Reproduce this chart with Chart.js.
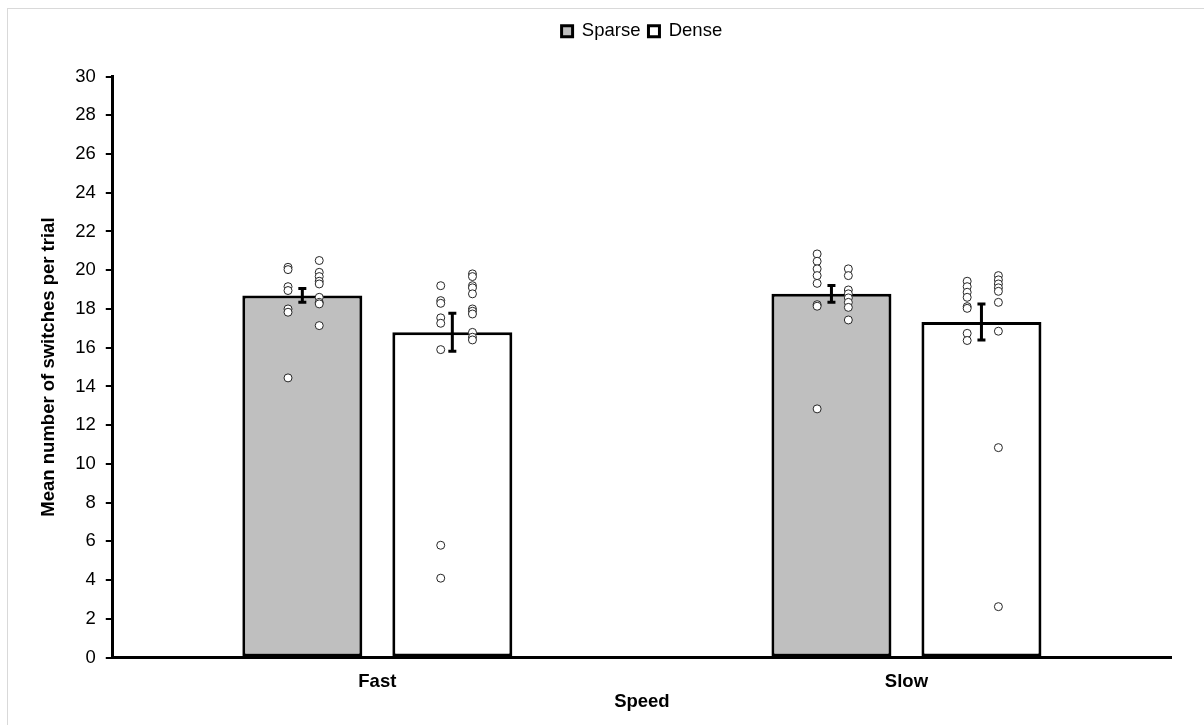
<!DOCTYPE html>
<html>
<head>
<meta charset="utf-8">
<script src="https://cdn.jsdelivr.net/npm/chart.js@4.4.1/dist/chart.umd.min.js"></script>
<style>
  html, body { margin: 0; padding: 0; background: #fff; }
  .wrap { position: relative; width: 1204px; height: 725px; }
  .frame { position: absolute; left: 7px; top: 8px; width: 1300px; height: 800px; border: 1px solid #d9d9d9; }
  canvas { position: absolute; left: 0; top: 0; }
</style>
</head>
<body>
<div class="wrap">
  <div class="frame"></div>
  <canvas id="chart" width="1204" height="725"></canvas>
</div>
<script>
const speeds = ["Fast", "Slow"];
const seriesNames = ["Sparse", "Dense"];

const sparseMeans = [18.7, 18.78];
const denseMeans = [16.8, 17.33];
const sparseErr = [0.35, 0.43];
const denseErr = [0.98, 0.93];

// individual participants, two columns of dots per bar
const fastSparseLeft = [20.15, 20.03, 19.15, 18.95, 18.0, 17.83, 14.44];
const fastSparseRight = [20.5, 19.89, 19.67, 19.43, 19.29, 18.6, 18.34, 18.26, 17.14];
const fastDenseLeft = [19.2, 18.43, 18.29, 17.54, 17.26, 15.9, 5.8, 4.1];
const fastDenseRight = [19.81, 19.67, 19.2, 19.09, 18.78, 18.0, 17.88, 17.74, 16.79, 16.54, 16.4];
const slowSparseLeft = [20.84, 20.46, 20.07, 19.72, 19.32, 18.22, 18.14, 12.84];
const slowSparseRight = [20.07, 19.72, 18.98, 18.78, 18.57, 18.34, 18.08, 17.43];
const slowDenseLeft = [19.43, 19.15, 18.86, 18.6, 18.12, 18.03, 16.74, 16.37];
const slowDenseRight = [19.72, 19.5, 19.29, 19.09, 18.91, 18.34, 16.85, 10.84, 2.63];

const yTicksMax = 30;
const yTickStep = 2;

// dot columns sit a little left and right of each bar centre
const barShift = 0.1418;
const leftCol = -0.027;
const rightCol = 0.032;

function dots(catIndex, shift, col, values) {
  return values.map((v) => ({ x: catIndex + shift + col, y: v }));
}

const dotPoints = []
  .concat(dots(0, -barShift, leftCol, fastSparseLeft))
  .concat(dots(0, -barShift, rightCol, fastSparseRight))
  .concat(dots(0, barShift, leftCol + 0.005, fastDenseLeft))
  .concat(dots(0, barShift, rightCol + 0.006, fastDenseRight))
  .concat(dots(1, -barShift, leftCol, slowSparseLeft))
  .concat(dots(1, -barShift, rightCol, slowSparseRight))
  .concat(dots(1, barShift, leftCol, slowDenseLeft))
  .concat(dots(1, barShift, rightCol, slowDenseRight));

const barData = (means) => means.map((m, i) => ({ x: i, y: m }));

const errorBars = {
  id: "errorBars",
  afterDatasetsDraw(chart) {
    const ctx = chart.ctx;
    const yScale = chart.scales.y;
    const errs = [sparseErr, denseErr];
    const means = [sparseMeans, denseMeans];
    ctx.save();
    ctx.strokeStyle = "#000";
    ctx.lineWidth = 3;
    [0, 1].forEach((di) => {
      const meta = chart.getDatasetMeta(di);
      meta.data.forEach((bar, i) => {
        const top = yScale.getPixelForValue(means[di][i] + errs[di][i]);
        const bot = yScale.getPixelForValue(means[di][i] - errs[di][i]);
        const x = bar.x;
        ctx.beginPath();
        ctx.moveTo(x, top);
        ctx.lineTo(x, bot);
        ctx.moveTo(x - 4, top);
        ctx.lineTo(x + 4, top);
        ctx.moveTo(x - 4, bot);
        ctx.lineTo(x + 4, bot);
        ctx.stroke();
      });
    });
    ctx.restore();
  },
};

// extra room under the legend
const legendGap = {
  id: "legendGap",
  beforeInit(chart) {
    const fit = chart.legend.fit;
    chart.legend.fit = function () {
      fit.bind(chart.legend)();
      this.height += 26;
    };
  },
};

Chart.defaults.font.family = "'Liberation Sans', Arial, sans-serif";
Chart.defaults.color = "#000";

new Chart(document.getElementById("chart"), {
  type: "bar",
  data: {
    datasets: [
      {
        label: seriesNames[0],
        data: barData(sparseMeans),
        backgroundColor: "#bfbfbf",
        borderColor: "#000",
        borderWidth: 3,
        borderSkipped: false,
        order: 2,
      },
      {
        label: seriesNames[1],
        data: barData(denseMeans),
        backgroundColor: "#fff",
        borderColor: "#000",
        borderWidth: 3,
        borderSkipped: false,
        order: 2,
      },
      {
        type: "scatter",
        label: "points",
        data: dotPoints,
        pointRadius: 4,
        backgroundColor: "#fff",
        borderColor: "#262626",
        borderWidth: 1,
        order: 1,
      },
    ],
  },
  options: {
    responsive: false,
    animation: false,
    categoryPercentage: 0.567,
    barPercentage: 0.8,
    layout: { padding: { top: 14, left: 38, right: 33, bottom: 12 } },
    plugins: {
      tooltip: { enabled: false },
      legend: {
        position: "top",
        fullSize: false,
        labels: {
          filter: (item) => item.datasetIndex < 2,
          boxWidth: 11,
          boxHeight: 11,
          padding: 8,
          font: { size: 18.5 },
          color: "#000",
        },
      },
    },
    scales: {
      x: {
        type: "linear",
        min: -0.5,
        max: 1.5,
        offset: false,
        afterBuildTicks: (axis) => {
          axis.ticks = speeds.map((_, i) => ({ value: i }));
        },
        grid: { display: false, drawTicks: false, offset: false },
        border: { color: "#000", width: 3 },
        ticks: {
          font: { size: 18.5, weight: "bold" },
          padding: 13,
          autoSkip: false,
          maxRotation: 0,
          callback: (v) => speeds[v],
        },
        title: { display: true, text: "Speed", font: { size: 18.5, weight: "bold" }, padding: { top: -15, bottom: 0 } },
      },
      y: {
        min: 0,
        max: yTicksMax,
        ticks: { stepSize: yTickStep, font: { size: 18.5 }, padding: 10 },
        grid: { drawOnChartArea: false, drawTicks: true, tickLength: 7, color: "#000", lineWidth: 2 },
        border: { color: "#000", width: 3 },
        title: { display: true, text: "Mean number of switches per trial", font: { size: 18.5, weight: "bold" }, padding: { top: 0, bottom: 5 } },
      },
    },
  },
  plugins: [errorBars, legendGap],
});
</script>
</body>
</html>
